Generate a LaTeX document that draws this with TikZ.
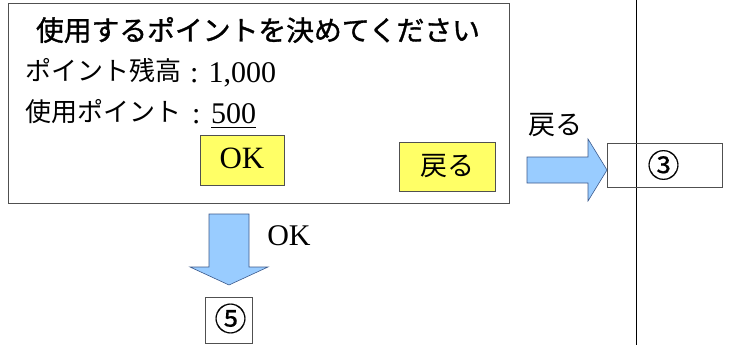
\documentclass[tikz,border=0pt]{standalone}
\usepackage{fontspec}
\setmainfont{Liberation Serif}
\newfontfamily\jpfont{Noto Sans CJK JP}
\newfontfamily\jptitlefont[FakeBold=1.2]{Noto Sans CJK JP}
\newfontfamily\circfont[FakeBold=0.3]{Noto Sans CJK JP}
\definecolor{boxgray}{RGB}{80,80,80}
\definecolor{btnyellow}{RGB}{255,255,102}
\definecolor{arrowfill}{RGB}{153,204,255}
\definecolor{arrowline}{RGB}{60,90,140}
\tikzset{
  jp/.style={font=\jpfont\fontsize{26pt}{30pt}\selectfont, inner sep=0pt},
  lat/.style={font=\fontsize{30pt}{34pt}\selectfont, inner sep=0pt},
  frame/.style={draw=boxgray, line width=1pt, inner sep=0pt},
  button/.style={draw=boxgray, line width=0.8pt, fill=btnyellow, inner sep=0pt},
  blockarrow/.style={draw=arrowline, line width=0.6pt, fill=arrowfill, line join=miter},
  circ/.style={font=\circfont\fontsize{32pt}{34pt}\selectfont, inner sep=0pt}
}
\begin{document}
\begin{tikzpicture}[x=1pt,y=-1pt]
\useasboundingbox (0,0) rectangle (731,345);
% vertical divider
\draw[line width=0.8pt] (636,0) coordinate (vtop) -- (636,345) coordinate (vbot);
% main screen
\node[frame, minimum width=501pt, minimum height=200pt, anchor=north west] (screen) at (8,3) {};
\node[jp, font=\jptitlefont\fontsize{27.8pt}{30pt}\selectfont] (title) at (258,30) {使用するポイントを決めてください};
\node[jp, anchor=west] (ballabel) at (25,71) {ポイント残高};
\node[lat, anchor=base west] (balval) at (190,82) {: 1,000};
\node[jp, anchor=west] (uselabel) at (25,112) {使用ポイント};
\node[lat, anchor=base west] (usecolon) at (192,123) {:};
\node[lat, anchor=base west] (useval) at (211,123) {500};
\draw[line width=1pt] ([yshift=-4pt]useval.base west) -- ([yshift=-4pt]useval.base east);
% buttons
\node[button, minimum width=84pt, minimum height=50pt] (okbtn) at (242,160) {};
\node[lat, font=\fontsize{31pt}{34pt}\selectfont] (oktext) at (242,158) {OK};
\node[button, minimum width=96pt, minimum height=49pt] (backbtn) at (447,166.5) {};
\node[jp, font=\jpfont\fontsize{27pt}{30pt}\selectfont] (backtext) at (447,166) {戻る};
% target boxes
\node[frame, line width=0.8pt, minimum width=115pt, minimum height=44pt] (s3) at (664.5,165) {};
\node[circ] (s3t) at (663.5,165) {③};
\node[frame, line width=0.8pt, minimum width=47pt, minimum height=46pt] (s5) at (228.5,320) {};
\node[circ] (s5t) at (230.5,318.5) {⑤};
% right block arrow
\draw[blockarrow] (527,157) -- (588,157) -- (588,139) -- (607,170) -- (588,201) -- (588,183) -- (527,183) -- cycle;
\node[jp, font=\jpfont\fontsize{27pt}{30pt}\selectfont] (backlabel) at (555,125) {戻る};
% down block arrow
\draw[blockarrow] (209,214) -- (249,214) -- (249,267) -- (268,267) -- (229,285) -- (190,267) -- (209,267) -- cycle;
\node[lat] (oklabel) at (289,236) {OK};
\end{tikzpicture}
\end{document}
